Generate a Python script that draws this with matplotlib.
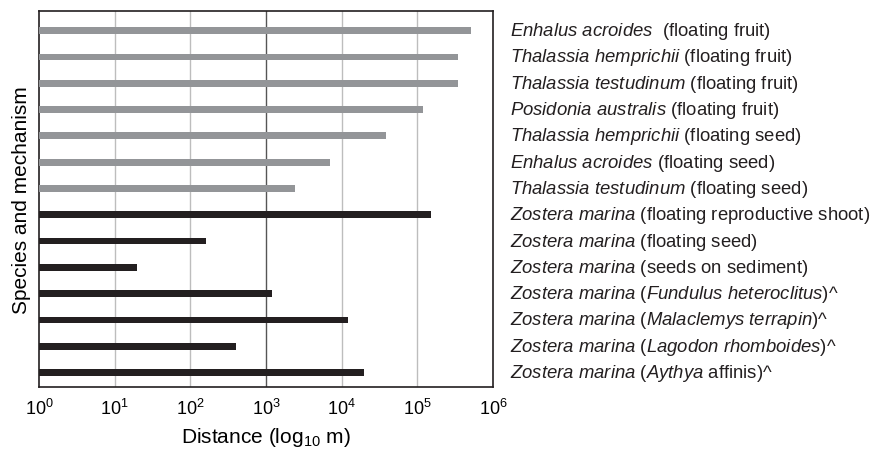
import numpy as np
import matplotlib
matplotlib.use("Agg")
from matplotlib import pyplot as plt
from matplotlib import transforms

plt.rcParams['font.family'] = ['Liberation Sans', 'DejaVu Sans']
plt.rcParams['mathtext.fontset'] = 'custom'
plt.rcParams['mathtext.rm'] = 'Liberation Sans'
plt.rcParams['mathtext.it'] = 'Liberation Sans:italic'

# labels top to bottom (italic parts in mathtext)
labels = [
    r'$\mathit{Enhalus\ acroides}$  (floating fruit)',
    r'$\mathit{Thalassia\ hemprichii}$ (floating fruit)',
    r'$\mathit{Thalassia\ testudinum}$ (floating fruit)',
    r'$\mathit{Posidonia\ australis}$ (floating fruit)',
    r'$\mathit{Thalassia\ hemprichii}$ (floating seed)',
    r'$\mathit{Enhalus\ acroides}$ (floating seed)',
    r'$\mathit{Thalassia\ testudinum}$ (floating seed)',
    r'$\mathit{Zostera\ marina}$ (floating reproductive shoot)',
    r'$\mathit{Zostera\ marina}$ (floating seed)',
    r'$\mathit{Zostera\ marina}$ (seeds on sediment)',
    r'$\mathit{Zostera\ marina}$ ($\mathit{Fundulus\ heteroclitus}$)^',
    r'$\mathit{Zostera\ marina}$ ($\mathit{Malaclemys\ terrapin}$)^',
    r'$\mathit{Zostera\ marina}$ ($\mathit{Lagodon\ rhomboides}$)^',
    r'$\mathit{Zostera\ marina}$ ($\mathit{Aythya}$ affinis)^',
]
distance = [5.1e5, 3.4e5, 3.4e5, 1.2e5, 3.8e4, 7.0e3, 2.4e3,
            1.5e5, 1.6e2, 19, 1.2e3, 1.2e4, 4.0e2, 2.0e4]
group = ['other'] * 7 + ['zostera'] * 7

colors = {'other': '#939598', 'zostera': '#231f20'}

fig = plt.figure(figsize=(8.74, 4.52), dpi=100)
ax = fig.add_axes([0.0446, 0.1416, 0.5195, 0.832])

y = np.arange(len(labels))
ax.barh(y, distance, left=1, height=0.26,
        color=[colors[g] for g in group], zorder=3)
ax.set_xscale('log')
ax.set_xlim(1, 1e6)
ax.set_ylim(13.55, -0.75)

# vertical grid lines
for v in [1e1, 1e2, 1e4, 1e5]:
    ax.axvline(v, color='#bdbdbd', lw=1, zorder=1)
ax.axvline(1e3, color='#555555', lw=1, zorder=1)

ax.set_yticks([])
ax.set_xticks([1, 1e1, 1e2, 1e3, 1e4, 1e5, 1e6])
ax.minorticks_off()
ax.tick_params(axis='x', length=0, pad=8, labelsize=13)
for s in ax.spines.values():
    s.set_linewidth(1.2)
    s.set_color('#231f20')

ax.set_xlabel(r'Distance (log$_{10}$ m)', fontsize=15, labelpad=5)
ax.set_ylabel('Species and mechanism', fontsize=15, labelpad=6)

trans = transforms.blended_transform_factory(ax.transAxes, ax.transData)
for yi, lab in zip(y, labels):
    ax.text(1.037, yi, lab, transform=trans, va='center', ha='left',
            fontsize=13.3, color='#231f20')

fig.savefig('out.png', dpi=100)
